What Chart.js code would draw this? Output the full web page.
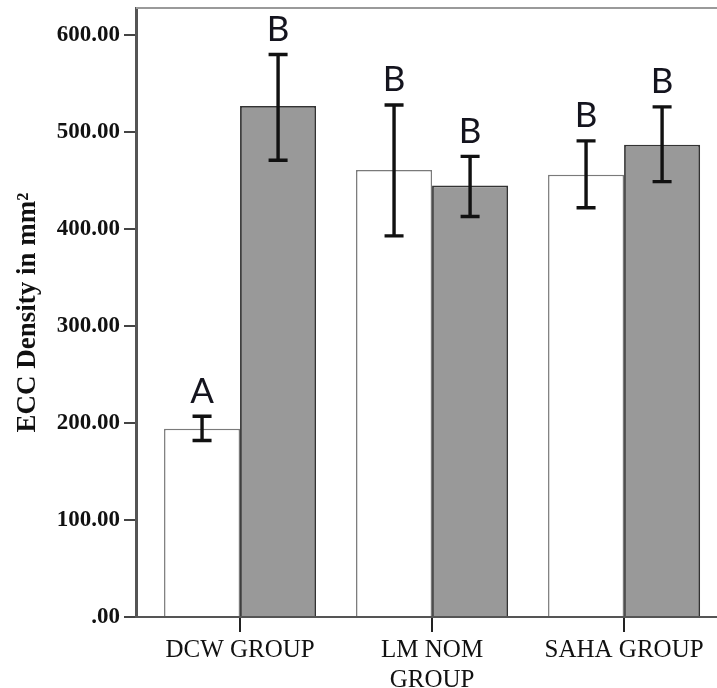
<!DOCTYPE html>
<html>
<head>
<meta charset="utf-8">
<script src="https://cdn.jsdelivr.net/npm/chart.js@4/dist/chart.umd.min.js"></script>
<style>
  html, body { margin: 0; padding: 0; background: #ffffff; }
  #wrap { width: 717px; height: 688px; }
</style>
</head>
<body>
<div id="wrap"><canvas id="chart" width="717" height="688"></canvas></div>
<script>
// Group labels along the x axis
const categories = ['DCW GROUP', ['LM NOM', 'GROUP'], 'SAHA GROUP'];

// First (white) bar of each group: mean and error-bar limits
const whiteMeans = [194, 461, 456];
const whiteLower = [182, 393, 422];
const whiteUpper = [207, 528, 491];

// Second (grey) bar of each group: mean and error-bar limits
const greyMeans = [527, 445, 487];
const greyLower = [471, 413, 449];
const greyUpper = [580, 475, 526];

// Significance letters over each bar
const whiteLetters = ['A', 'B', 'B'];
const greyLetters = ['B', 'B', 'B'];

// Y tick values
const yTicks = [0, 100, 200, 300, 400, 500, 600];

const positions = categories.map((_, i) => i + 1);
const toPoints = vals => vals.map((v, i) => ({ x: positions[i], y: v }));

const errorSets = [
  { lower: whiteLower, upper: whiteUpper, letters: whiteLetters },
  { lower: greyLower, upper: greyUpper, letters: greyLetters }
];

// Error bars with caps, plus the letter above each upper cap
const errorBarPlugin = {
  id: 'errorBars',
  afterDatasetsDraw(chart) {
    const ctx = chart.ctx;
    const yScale = chart.scales.y;
    ctx.save();
    chart.data.datasets.forEach((ds, di) => {
      const meta = chart.getDatasetMeta(di);
      const set = errorSets[di];
      meta.data.forEach((bar, i) => {
        const x = bar.x;
        const yLo = yScale.getPixelForValue(set.lower[i]);
        const yHi = yScale.getPixelForValue(set.upper[i]);
        const half = 9.5;
        ctx.strokeStyle = '#111111';
        ctx.lineWidth = 3.4;
        ctx.lineCap = 'butt';
        ctx.beginPath();
        ctx.moveTo(x, yLo);
        ctx.lineTo(x, yHi);
        ctx.moveTo(x - half, yHi);
        ctx.lineTo(x + half, yHi);
        ctx.moveTo(x - half, yLo);
        ctx.lineTo(x + half, yLo);
        ctx.stroke();

        ctx.fillStyle = '#14141e';
        ctx.font = '35px Lato, "Open Sans", sans-serif';
        ctx.textAlign = 'center';
        ctx.textBaseline = 'middle';
        ctx.fillText(set.letters[i], x, yHi - 25);
      });
    });
    ctx.restore();
  }
};

// Thin frame line along the top of the plot area
const topFramePlugin = {
  id: 'topFrame',
  afterDraw(chart) {
    const { ctx, chartArea } = chart;
    ctx.save();
    ctx.strokeStyle = '#9a9a9a';
    ctx.lineWidth = 2;
    ctx.beginPath();
    ctx.moveTo(chartArea.left, chartArea.top);
    ctx.lineTo(chartArea.right, chartArea.top);
    ctx.stroke();
    ctx.restore();
  }
};

new Chart(document.getElementById('chart'), {
  type: 'bar',
  data: {
    datasets: [
      {
        label: 'Series 1',
        data: toPoints(whiteMeans),
        backgroundColor: '#ffffff',
        borderColor: '#7a7a7a',
        borderWidth: 1.5
      },
      {
        label: 'Series 2',
        data: toPoints(greyMeans),
        backgroundColor: '#999999',
        borderColor: '#333333',
        borderWidth: 1.8
      }
    ]
  },
  options: {
    responsive: false,
    animation: false,
    events: [],
    layout: { padding: { top: 8, right: 0, bottom: 0, left: 0 } },
    datasets: {
      bar: { categoryPercentage: 0.792, barPercentage: 1.0 }
    },
    plugins: {
      legend: { display: false },
      tooltip: { enabled: false }
    },
    scales: {
      x: {
        type: 'linear',
        min: 0.458,
        max: 3.484,
        offset: false,
        afterBuildTicks(scale) {
          scale.ticks = positions.map(v => ({ value: v }));
        },
        afterFit(scale) {
          scale.height = 71;
          scale.paddingLeft = 0;
          scale.paddingRight = 0;
        },
        ticks: {
          callback: (value, index) => categories[index],
          font: { family: '"Liberation Serif", "Times New Roman", serif', size: 25 },
          color: '#111111',
          padding: 3,
          maxRotation: 0,
          minRotation: 0,
          autoSkip: false
        },
        grid: {
          offset: false,
          drawOnChartArea: false,
          drawTicks: true,
          tickLength: 15,
          color: '#222222',
          lineWidth: 2
        },
        border: { color: '#555555', width: 2 }
      },
      y: {
        min: 0,
        max: 628,
        afterBuildTicks(scale) {
          scale.ticks = yTicks.map(v => ({ value: v }));
        },
        afterFit(scale) {
          scale.width = 136;
          scale.paddingTop = 0;
          scale.paddingBottom = 0;
        },
        ticks: {
          callback: v => (v === 0 ? '.00' : v.toFixed(2)),
          font: { family: '"Liberation Serif", "Times New Roman", serif', size: 23, weight: 'bold' },
          color: '#111111',
          padding: 4
        },
        grid: {
          drawOnChartArea: false,
          drawTicks: true,
          tickLength: 12,
          color: '#444444',
          lineWidth: 2
        },
        border: { color: '#555555', width: 3 },
        title: {
          display: true,
          text: 'ECC Density in mm²',
          font: { family: '"Liberation Serif", "Times New Roman", serif', size: 27, weight: 'bold' },
          color: '#111111',
          padding: { top: 12, bottom: 0 }
        }
      }
    }
  },
  plugins: [errorBarPlugin, topFramePlugin]
});
</script>
</body>
</html>
